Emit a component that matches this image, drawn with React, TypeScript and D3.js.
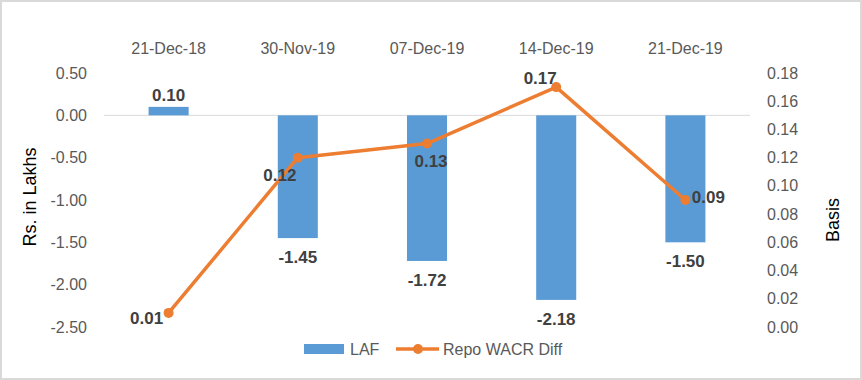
import React from "react";
import * as d3 from "d3";

const categories = ["21-Dec-18", "30-Nov-19", "07-Dec-19", "14-Dec-19", "21-Dec-19"];
const lafValues = [0.1, -1.45, -1.72, -2.18, -1.5];
const repoValues = [0.01, 0.12, 0.13, 0.17, 0.09];
const leftTicks = [0.5, 0, -0.5, -1, -1.5, -2, -2.5];
const rightTicks = [0, 0.02, 0.04, 0.06, 0.08, 0.1, 0.12, 0.14, 0.16, 0.18];
// label placement for the line series
const repoLabelPos = ["left", "belowLeft", "below", "aboveLeft", "right"];

const W = 862;
const H = 380;
const FONT = "'Liberation Sans', Arial, sans-serif";
const fmt = (v: number) => v.toFixed(2);

export default function App() {
  const x = d3.scaleBand<string>().domain(categories).range([104, 750]).padding(0);
  const yL = d3.scaleLinear().domain([-2.5, 0.5]).range([327, 73]);
  const yR = d3.scaleLinear().domain([0, 0.18]).range([327, 73]);
  const bw = x.bandwidth() * 0.31;
  const cx = (c: string) => (x(c) as number) + x.bandwidth() / 2;

  const line = d3
    .line<number>()
    .x((_, i) => cx(categories[i]))
    .y((d) => yR(d));

  const labelOffset = (pos: string) => {
    switch (pos) {
      case "left":
        return { dx: -22, dy: 5 };
      case "belowLeft":
        return { dx: -18, dy: 17 };
      case "below":
        return { dx: 4, dy: 17 };
      case "aboveLeft":
        return { dx: -16, dy: -9 };
      case "right":
        return { dx: 23, dy: -3 };
      default:
        return { dx: 0, dy: -12 };
    }
  };

  return (
    <svg
      width={W}
      height={H}
      style={{ position: "absolute", left: 0, top: 0, background: "#fff" }}
      fontFamily={FONT}
    >
      <rect x={1} y={1} width={W - 2} height={H - 2} fill="#fff" stroke="#D9D9D9" strokeWidth={2} />

      {categories.map((c) => (
        <text key={c} x={cx(c)} y={48} dy="0.35em" textAnchor="middle" fontSize={16} fill="#595959">
          {c}
        </text>
      ))}

      {leftTicks.map((t) => (
        <text key={"l" + t} x={87} y={yL(t)} dy="0.35em" textAnchor="end" fontSize={16} fill="#595959">
          {fmt(t)}
        </text>
      ))}
      {rightTicks.map((t) => (
        <text key={"r" + t} x={767} y={yR(t)} dy="0.35em" textAnchor="start" fontSize={16} fill="#595959">
          {fmt(t)}
        </text>
      ))}

      <text transform={`translate(30,197) rotate(-90)`} textAnchor="middle" dy="0.35em" fontSize={18} fill="#000">
        Rs. in Lakhs
      </text>
      <text transform={`translate(833,220) rotate(-90)`} textAnchor="middle" dy="0.35em" fontSize={18} fill="#000">
        Basis
      </text>

      <line x1={104} x2={750} y1={yL(0)} y2={yL(0)} stroke="#D9D9D9" strokeWidth={1} />

      {lafValues.map((v, i) => {
        const c = categories[i];
        const y0 = yL(0);
        const y1 = yL(v);
        return (
          <rect
            key={"b" + c}
            x={cx(c) - bw / 2}
            y={Math.min(y0, y1)}
            width={bw}
            height={Math.abs(y1 - y0)}
            fill="#5B9BD5"
          />
        );
      })}

      <path d={line(repoValues) || ""} fill="none" stroke="#ED7D31" strokeWidth={3.5} strokeLinejoin="round" />
      {repoValues.map((v, i) => (
        <circle key={"p" + i} cx={cx(categories[i])} cy={yR(v)} r={5} fill="#ED7D31" />
      ))}

      {lafValues.map((v, i) => {
        const c = categories[i];
        const yy = v >= 0 ? yL(v) - 12 : yL(v) + 19;
        return (
          <text
            key={"bl" + c}
            x={cx(c)}
            y={yy}
            dy="0.35em"
            textAnchor="middle"
            fontSize={17}
            fontWeight="bold"
            fill="#404040"
          >
            {fmt(v)}
          </text>
        );
      })}

      {repoValues.map((v, i) => {
        const o = labelOffset(repoLabelPos[i]);
        return (
          <text
            key={"ll" + i}
            x={cx(categories[i]) + o.dx}
            y={yR(v) + o.dy}
            dy="0.35em"
            textAnchor="middle"
            fontSize={17}
            fontWeight="bold"
            fill="#404040"
          >
            {fmt(v)}
          </text>
        );
      })}

      <rect x={304} y={344} width={40} height={10} fill="#5B9BD5" />
      <text x={350} y={349} dy="0.35em" fontSize={16} fill="#595959">
        LAF
      </text>
      <line x1={396} x2={439} y1={349} y2={349} stroke="#ED7D31" strokeWidth={3.5} />
      <circle cx={418} cy={349} r={5} fill="#ED7D31" />
      <text x={443} y={349} dy="0.35em" fontSize={16} fill="#595959">
        Repo WACR Diff
      </text>
    </svg>
  );
}
